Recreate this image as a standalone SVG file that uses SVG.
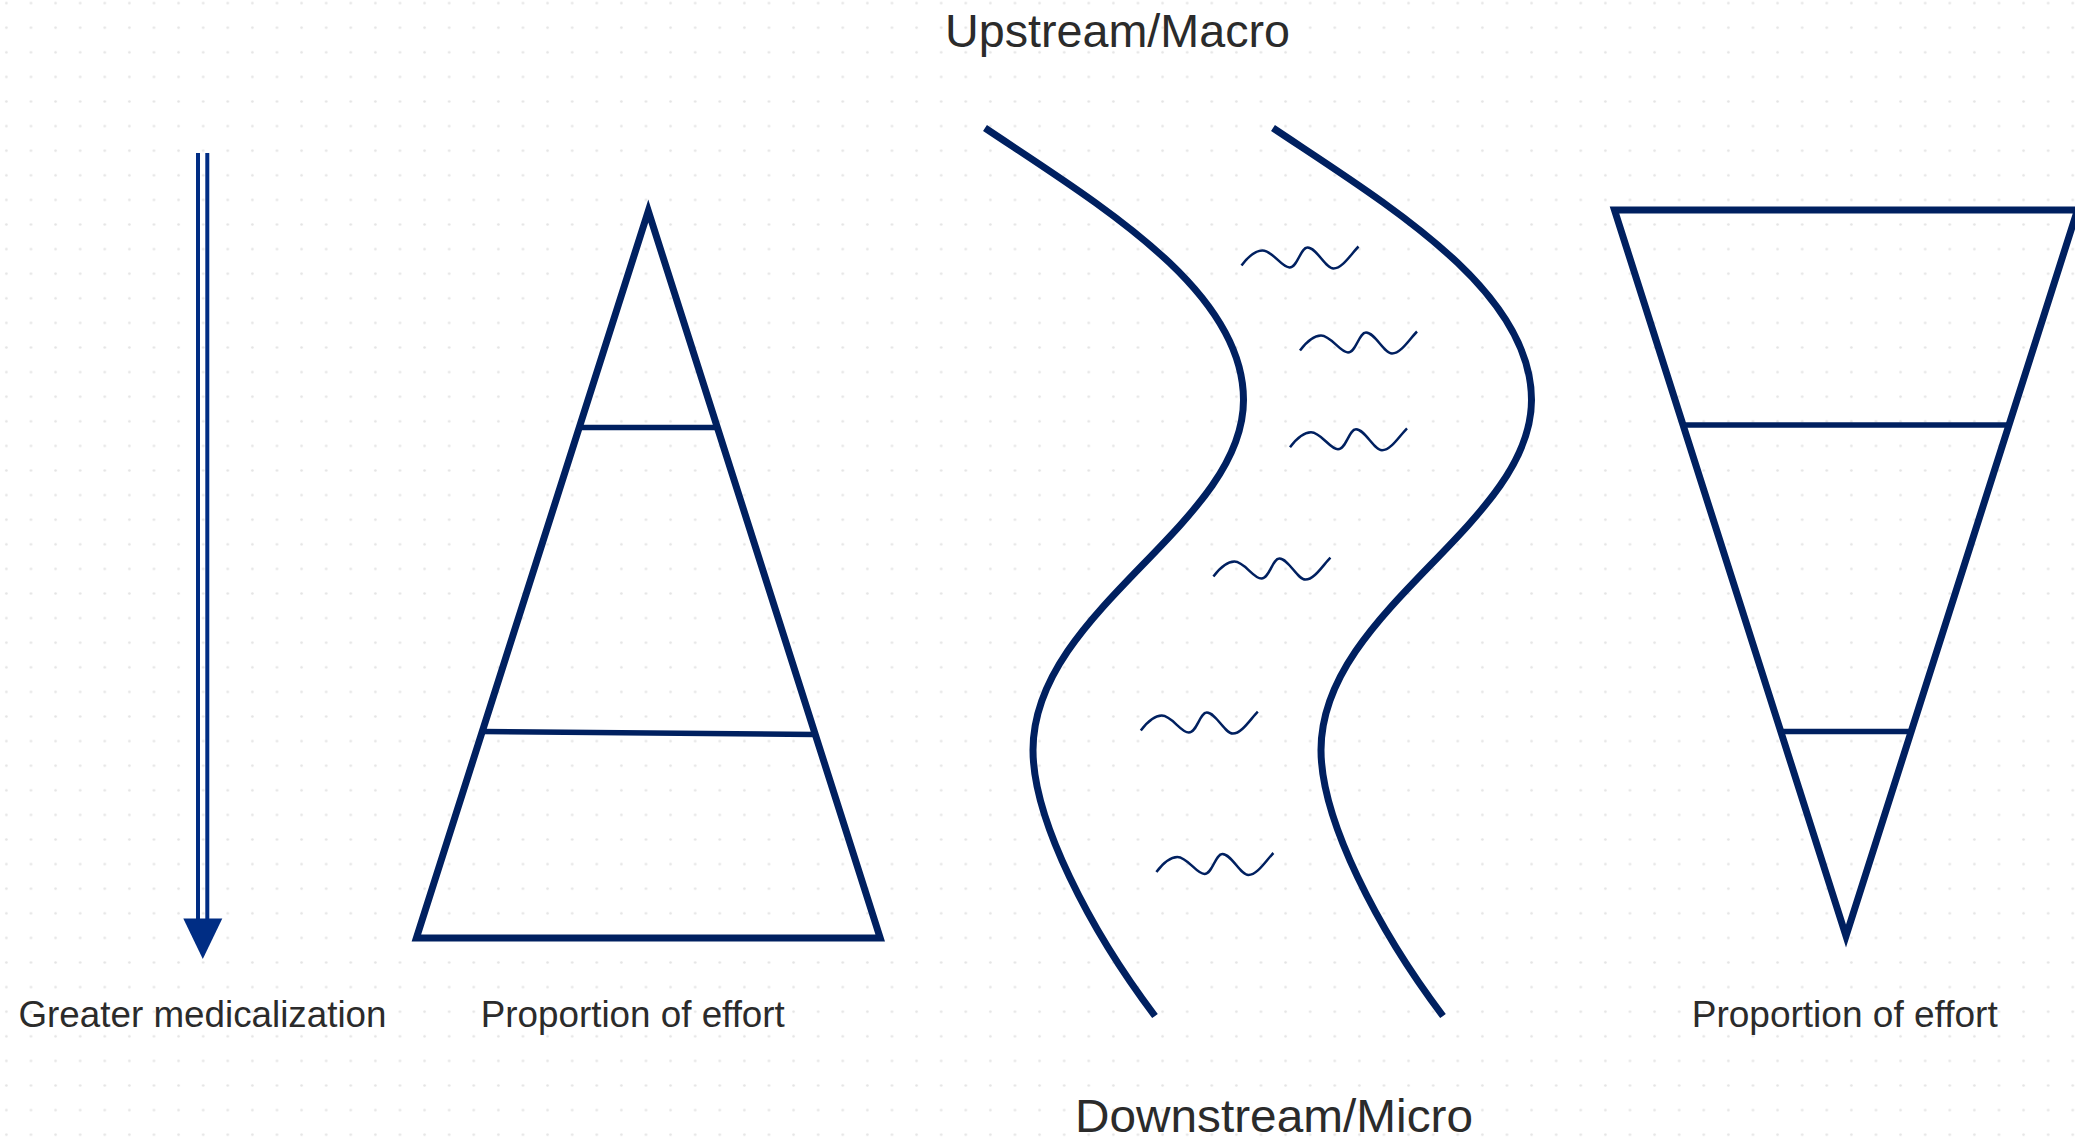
<svg xmlns="http://www.w3.org/2000/svg" width="2075" height="1139" viewBox="0 0 2075 1139">
<style>
.ln{fill:none;stroke:#002060;stroke-width:7;stroke-linejoin:miter}
.in{fill:none;stroke:#002060;stroke-width:5.5}
.river{fill:none;stroke:#002060;stroke-width:7;stroke-linecap:butt}
.wave{fill:none;stroke:#002060;stroke-width:2.5;stroke-linecap:butt}
.lbl{font-family:"Liberation Sans",Arial,sans-serif;fill:#2b2b2b;text-anchor:middle}
.sm{font-size:36px}
.bg{font-size:47px}
</style>
<defs>
<pattern id="grid" patternUnits="userSpaceOnUse" x="-5.9" y="-9.2" width="24.6" height="24.6">
<circle cx="12.3" cy="12.3" r="1.3" fill="#e4e4e4"/>
</pattern>
<path id="w" d="M0,0 C6,-8 13,-15 21,-15 C31,-15 40,2 48,2 C56,2 59,-18 66,-18 C75,-18 84,3 92,3 C101,3 110,-12 117,-19"/>
</defs>
<rect width="2075" height="1139" fill="#ffffff"/>
<rect width="2075" height="1139" fill="url(#grid)"/>

<g id="connectors">
<g id="arrow-medicalization">
<line x1="198" y1="153" x2="198" y2="920" stroke="#002d84" stroke-width="4"/>
<line x1="207.3" y1="153" x2="207.3" y2="920" stroke="#002d84" stroke-width="4"/>
<polygon points="183.3,918.6 222.3,918.6 202.8,959" fill="#002d84"/>
</g>
</g>

<g id="pyramid">
<polygon class="ln" points="648.3,211 416.4,938 880.2,938"/>
<line class="in" x1="579.2" y1="427.5" x2="717.4" y2="427.5"/>
<line class="in" x1="482.3" y1="731.5" x2="815" y2="734.5"/>
</g>

<g id="river-left">
<path class="river" d="M985,128 C1100,205 1243.5,290 1243.5,400 C1243.5,525 1033,610 1033,750 C1033,820 1090,930 1155,1016"/>
</g>
<g id="river-right">
<path class="river" d="M985,128 C1100,205 1243.5,290 1243.5,400 C1243.5,525 1033,610 1033,750 C1033,820 1090,930 1155,1016" transform="translate(288,0)"/>
</g>

<g id="waves">
<use href="#w" class="wave" x="1241.5" y="265.5"/>
<use href="#w" class="wave" x="1300" y="350.5"/>
<use href="#w" class="wave" x="1290" y="447.3"/>
<use href="#w" class="wave" x="1213.4" y="576.6"/>
<use href="#w" class="wave" x="1140.8" y="730.6"/>
<use href="#w" class="wave" x="1156.4" y="872"/>
</g>

<g id="inverted-pyramid">
<polygon class="ln" points="1614.5,210 2077.5,210 1846,936"/>
<line class="in" x1="1683.5" y1="425" x2="2008.5" y2="425"/>
<line class="in" x1="1781.5" y1="731.5" x2="1910.5" y2="731.5"/>
</g>

<g id="labels">
<text class="lbl bg" x="1117.5" y="46.5" textLength="345" lengthAdjust="spacingAndGlyphs">Upstream/Macro</text>
<text class="lbl bg" x="1274" y="1131.5" textLength="398" lengthAdjust="spacingAndGlyphs">Downstream/Micro</text>
<text class="lbl sm" x="202.5" y="1027.3" textLength="368" lengthAdjust="spacingAndGlyphs">Greater medicalization</text>
<text class="lbl sm" x="632.8" y="1027.3" textLength="304" lengthAdjust="spacingAndGlyphs">Proportion of effort</text>
<text class="lbl sm" x="1844.7" y="1027.3" textLength="306" lengthAdjust="spacingAndGlyphs">Proportion of effort</text>
</g>
</svg>
